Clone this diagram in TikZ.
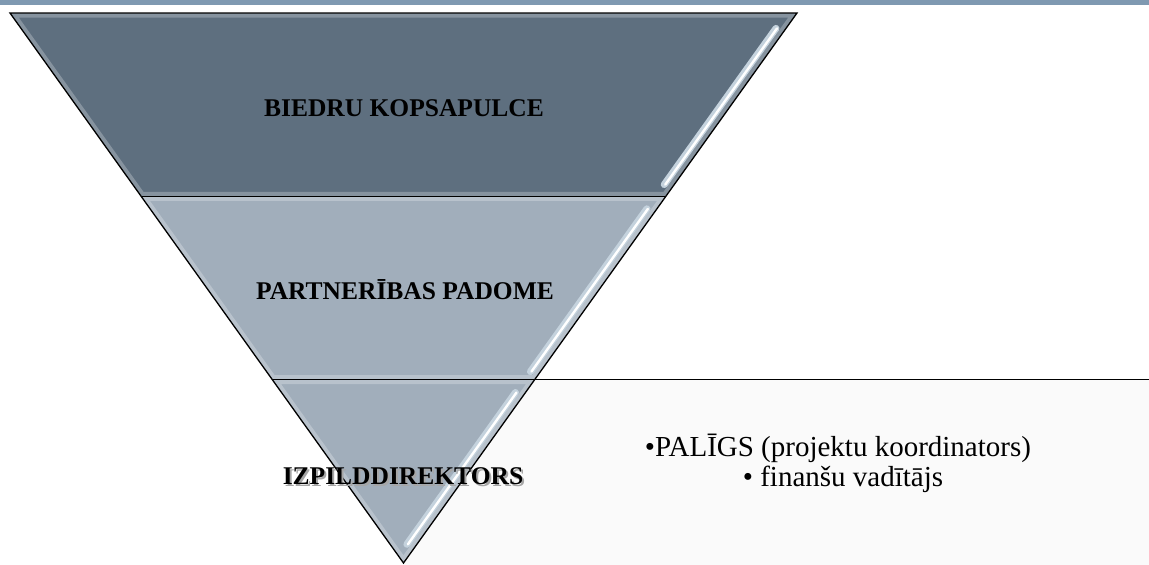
\documentclass[tikz,border=0pt]{standalone}
\usepackage{fontspec}
\setmainfont{Liberation Serif}
\usetikzlibrary{calc}

\definecolor{barblue}{HTML}{7F99B1}
\definecolor{topgray}{HTML}{5E6F7F}
\definecolor{lowgray}{HTML}{A1AEBB}
\definecolor{boxgray}{HTML}{FAFAFA}
\definecolor{shine}{HTML}{C4D2DD}

\newcommand{\shadowtext}[1]{\makebox[0pt][l]{\hspace{2pt}\raisebox{-2.5pt}{\textcolor{black!35}{#1}}}#1}

\begin{document}
\begin{tikzpicture}
                [x=1pt, y=-1pt,
                  level/.style={draw=black, line width=1.3pt},
                  title/.style={font=\bfseries\fontsize{25.5}{30}\selectfont, anchor=base, inner sep=0pt},
                  bullets/.style={font=\fontsize{29}{30}\selectfont, anchor=base, inner sep=0pt},
                  gloss/.style={line width=7pt, line cap=round, shine},
                  glosscore/.style={line width=2.4pt, line cap=round, white},
                ]
                \useasboundingbox (0,0) rectangle (1149,565);
                \fill[barblue] (0,0) rectangle (1149,4.5);
                \coordinate (tl) at (10,13);
                \coordinate (tr) at (797,13);
                \coordinate (apex) at (403.5,563);
                \coordinate (boxright) at (1149,565);
                \coordinate (l1) at ($(tl)!1/3!(apex)$);
                \coordinate (r1) at ($(tr)!1/3!(apex)$);
                \coordinate (l2) at ($(tl)!2/3!(apex)$);
                \coordinate (r2) at ($(tr)!2/3!(apex)$);
                \coordinate (boxtop) at (l2 -| boxright);
                % box behind the lowest level
                \fill[boxgray] (apex |- l2) rectangle (boxright);
                % three levels
                \foreach \a/\b/\c/\d/\col in {tl/tr/r1/l1/topgray, l1/r1/r2/l2/lowgray, l2/r2/apex/apex/lowgray}{
                  \fill[\col] (\a) -- (\b) -- (\c) -- (\d) -- cycle;
                  \begin{scope}
                    \clip (\a) -- (\b) -- (\c) -- (\d) -- cycle;
                    \draw[white, opacity=.25, line width=9pt] (\a) -- (\b) -- (\c) -- (\d) -- cycle;
                  \end{scope}
                }
                \foreach \s/\e in {0.028/0.312, 0.356/0.652, 0.69/0.966}{
                  \draw[gloss] ($(tr)!\s!(apex)+(-10,0)$) -- ($(tr)!\e!(apex)+(-10,0)$);
                  \draw[glosscore] ($(tr)!\s!(apex)+(-9,0)$) -- ($(tr)!\e!(apex)+(-9,0)$);
                }
                \draw[level] (tl) -- (tr) -- (apex) -- cycle;
                \draw[level] (l1) -- (r1);
                \draw[level] (l2) -- (boxtop);
                % texts
                \node[title] (biedru) at (404,116) {BIEDRU KOPSAPULCE};
                \node[title] (padome) at (405,299) {PARTNERĪBAS PADOME};
                \node[title] (izpild) at (403,484) {\shadowtext{IZPILDDIREKTORS}};
                \node[bullets] (palig) at (838,456) {•PALĪGS (projektu koordinators)};
                \node[bullets] (finans) at (843,486) {• finanšu vadītājs};
\end{tikzpicture}
\end{document}
